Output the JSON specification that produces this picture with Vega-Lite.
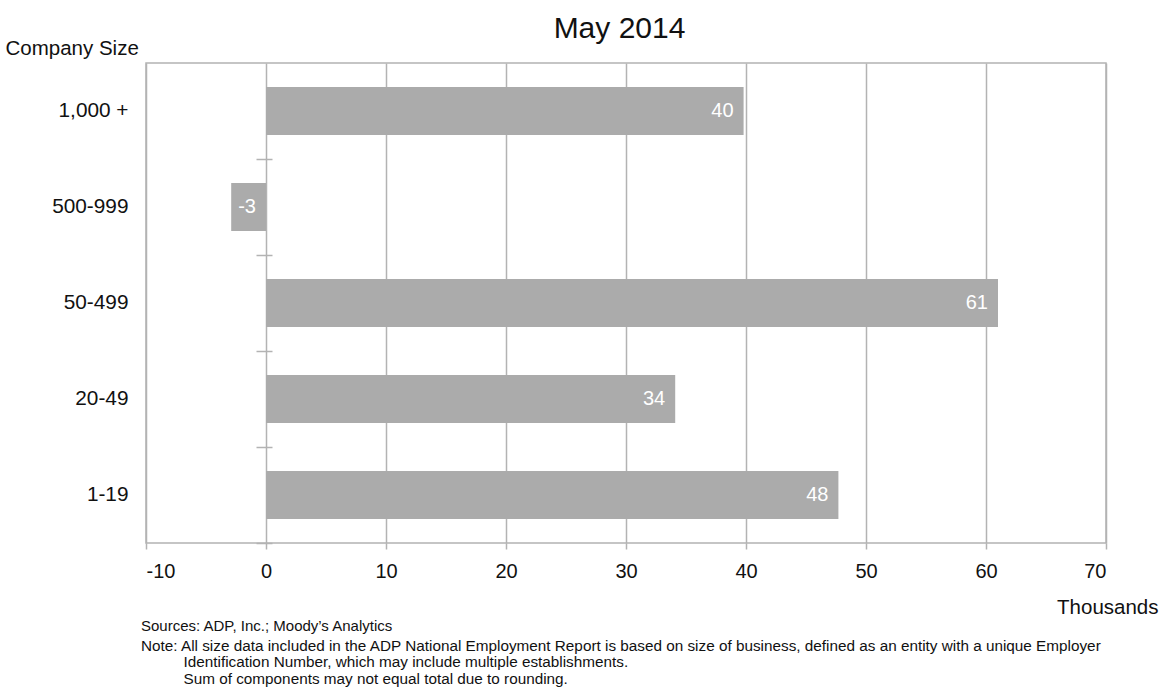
{
  "$schema": "https://vega.github.io/schema/vega-lite/v6.json",
  "width": 960,
  "height": 480,
  "autosize": {"type": "none"},
  "padding": {"left": 146, "top": 63, "right": 56, "bottom": 151},
  "background": "white",
  "config": {
    "font": "Liberation Sans",
    "view": {"stroke": "#b3b3b3", "strokeWidth": 1.5}
  },
  "title": {
    "text": "Sources: ADP, Inc.; Moody’s Analytics",
    "subtitle": [
      "Note:  All size data included in the ADP National Employment Report is based on size of business, defined as an entity with a unique Employer",
      "\u200b\u00a0\u00a0\u00a0\u00a0\u00a0\u00a0\u00a0\u00a0\u00a0\u00a0Identification Number, which may include multiple establishments.",
      "\u200b\u00a0\u00a0\u00a0\u00a0\u00a0\u00a0\u00a0\u00a0\u00a0\u00a0Sum of components may not equal total due to rounding."
    ],
    "orient": "bottom",
    "anchor": "start",
    "frame": "group",
    "dx": -5,
    "offset": 1,
    "fontSize": 15,
    "fontWeight": "normal",
    "color": "#111111",
    "subtitleFont": "Liberation Sans",
    "subtitleFontSize": 15.3,
    "subtitleColor": "#111111",
    "subtitlePadding": 5,
    "subtitleLineHeight": 16.5
  },
  "data": {
    "values": [
      {"size": "1,000 +", "value": 39.8, "label": "40"},
      {"size": "500-999", "value": -2.9, "label": "-3"},
      {"size": "50-499", "value": 61.0, "label": "61"},
      {"size": "20-49", "value": 34.1, "label": "34"},
      {"size": "1-19", "value": 47.7, "label": "48"}
    ]
  },
  "transform": [{"calculate": "max(datum.value, 0)", "as": "labelPos"}],
  "layer": [
    {
      "mark": {"type": "bar", "color": "#ababab"},
      "encoding": {
        "y": {
          "field": "size",
          "type": "nominal",
          "sort": null,
          "scale": {"paddingInner": 0.5, "paddingOuter": 0.25},
          "axis": {
            "title": "Company Size",
            "titleAngle": 0,
            "titleAlign": "left",
            "titleBaseline": "alphabetic",
            "titleX": -141,
            "titleY": -9,
            "titleFontSize": 20.5,
            "titleFontWeight": "normal",
            "titleColor": "#111111",
            "labelFontSize": 20.8,
            "labelColor": "#111111",
            "labelPadding": 18,
            "ticks": false,
            "domain": false
          }
        },
        "x": {
          "field": "value",
          "type": "quantitative",
          "scale": {"domain": [-10, 70], "nice": false},
          "axis": {
            "values": [-10, 0, 10, 20, 30, 40, 50, 60, 70],
            "labelExpr": "'' + datum.value",
            "grid": true,
            "gridColor": "#b3b3b3",
            "gridWidth": 1.5,
            "domain": false,
            "tickColor": "#b3b3b3",
            "tickWidth": 1.5,
            "tickSize": 6,
            "labelFontSize": 20,
            "labelColor": "#111111",
            "labelPadding": 12,
            "title": "Thousands",
            "titleAnchor": "end",
            "titleAlign": "right",
            "titleX": 1012,
            "titleY": 70,
            "titleBaseline": "alphabetic",
            "titleFontSize": 20.5,
            "titleFontWeight": "normal",
            "titleColor": "#111111"
          }
        }
      }
    },
    {
      "mark": {"type": "text", "align": "right", "dx": -10, "color": "white", "fontSize": 20, "baseline": "middle"},
      "encoding": {
        "y": {
          "field": "size",
          "type": "nominal",
          "sort": null,
          "axis": {
            "orient": "left",
            "offset": -126,
            "labels": false,
            "domain": false,
            "ticks": true,
            "tickOffset": 48,
            "tickSize": 16,
            "tickColor": "#b3b3b3",
            "tickWidth": 1.5,
            "title": null
          }
        },
        "x": {
          "field": "labelPos",
          "type": "quantitative",
          "axis": {
            "orient": "top",
            "labels": false,
            "ticks": false,
            "domain": false,
            "grid": false,
            "title": "May 2014",
            "titleX": 473,
            "titleAlign": "center",
            "titleBaseline": "alphabetic",
            "titleFontSize": 30,
            "titleFontWeight": "normal",
            "titleColor": "#111111",
            "titlePadding": 26
          }
        },
        "text": {"field": "label"}
      }
    }
  ],
  "resolve": {"axis": {"x": "independent", "y": "independent"}}
}
